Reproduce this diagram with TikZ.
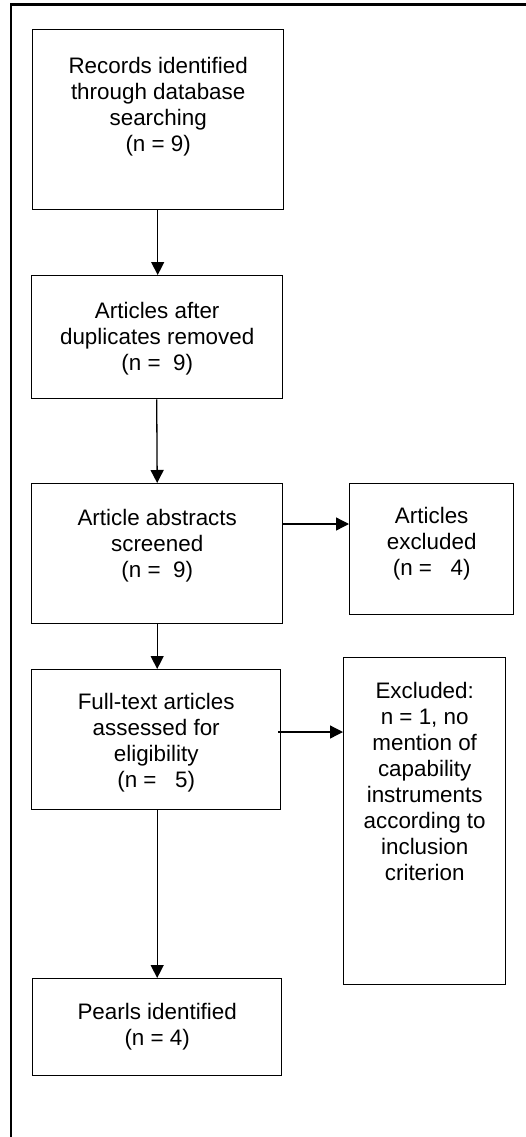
\documentclass[tikz,border=0pt]{standalone}
\usepackage{fontspec}
\setmainfont{Liberation Sans}
\usetikzlibrary{arrows.meta,calc}
\begin{document}
\begin{tikzpicture}[x=1pt,y=-1pt,
  font=\fontsize{22.4}{26}\selectfont,
  box/.style={draw=black,line width=1.4pt,inner sep=0pt,align=center,anchor=north west},
  arr/.style={line width=1.3pt,-{Triangle[length=13pt,width=13pt]}}]
\useasboundingbox (0,0) rectangle (526,1137);
% outer frame: top and left rules only
\draw[line width=2.4pt] (526,4.5) -- (10.7,4.5) -- (10.7,1137);
% main column (text height runs to the last baseline)
\node[box,minimum width=251pt,text height=122pt,text depth=58pt] (rec) at (32,29)
  {Records identified\\through database\\searching\\(n = 9)};
\node[box,minimum width=251pt,text height=95pt,text depth=28pt] (dup) at (31,275)
  {Articles after\\duplicates removed\\(n =\ \ 9)};
\node[box,minimum width=251pt,text height=94pt,text depth=46pt] (abs) at (31,483)
  {Article abstracts\\screened\\(n =\ \ 9)};
\node[box,minimum width=249pt,text height=118pt,text depth=22pt] (full) at (31,669)
  {Full-text articles\\assessed for\\eligibility\\(n =\ \ \ 5)};
\node[box,minimum width=249pt,text height=67pt,text depth=30pt] (pearl) at (32,978)
  {Pearls identified\\(n = 4)};
% exclusion boxes
\node[box,minimum width=164pt,text height=92pt,text depth=39pt] (artex) at (349,483)
  {Articles\\excluded\\(n =\ \ \ 4)};
\node[box,minimum width=162pt,text height=223pt,text depth=104pt] (exc) at (343,657)
  {Excluded:\\n = 1, no\\mention of\\capability\\instruments\\according to\\inclusion\\criterion};
% connectors
\draw[arr] ([xshift=-0.5pt]rec.south) -- ([xshift=0.5pt]dup.north);
\draw[arr] ([xshift=-0.5pt]dup.south) -- (abs.north);
\draw[arr] (abs.south) -- ([xshift=1pt]full.north);
\draw[arr] ([xshift=1pt]full.south) -- (pearl.north);
\coordinate (a1) at ([yshift=-41pt]abs.north east);
\draw[arr] (a1) -- (artex.west |- a1);
\coordinate (a2) at ([xshift=-3pt,yshift=-63pt]full.north east);
\draw[arr] (a2) -- (exc.west |- a2);
\end{tikzpicture}
\end{document}
